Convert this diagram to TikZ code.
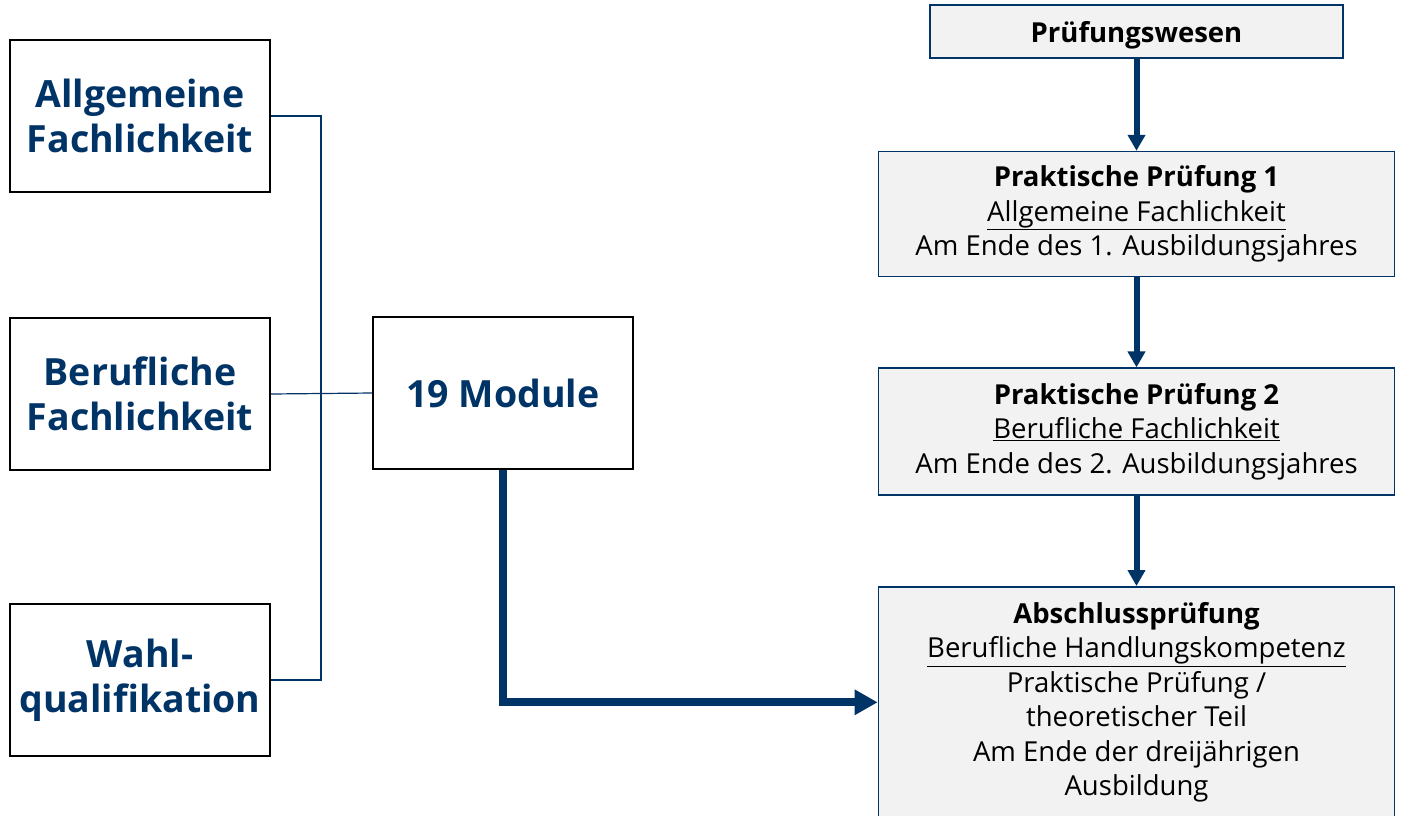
\documentclass[tikz,border=0pt]{standalone}
\usepackage{fontspec}
\setmainfont{Open Sans}
\usetikzlibrary{arrows.meta,positioning}
\definecolor{dunkelblau}{RGB}{0,51,102}
\definecolor{hellgrau}{RGB}{242,242,242}
\tikzset{
    %Kaesten links (Lernbereiche)
    kasten/.style={
           rectangle,
           draw=black, line width=1.6pt,
           minimum width=260pt,
           minimum height=152pt,
           align=center,
           text=dunkelblau,
           font=\fontsize{37.5}{45}\selectfont\bfseries},
    %Kaesten rechts (Pruefungen)
    pruef/.style={
           rectangle,
           draw=dunkelblau, line width=1.6pt,
           fill=hellgrau,
           minimum width=516pt,
           align=center,
           font=\fontsize{27.5}{34.5}\selectfont},
    % Verbindungslinien
    duenn/.style={
           draw=dunkelblau,
           line width=1.2pt},
    pfeil/.style={
           -{Triangle[length=16pt,width=17pt]},
           draw=dunkelblau,
           line width=6pt},
    dickpfeil/.style={
           -{Triangle[length=23pt,width=24pt]},
           draw=dunkelblau,
           line width=8pt}
}

\begin{document}
\begin{tikzpicture}[x=1pt, y=-1pt]
\useasboundingbox (0,0) rectangle (1409,815);
% linke Spalte
\node[kasten] (allg) at (140,116) {Allgemeine\\Fachlichkeit};
\node[kasten] (beruf) at (140,394) {Berufliche\\Fachlichkeit};
\node[kasten] (wahl) at (140,680) {Wahl-\\qualifikation};
\node[kasten] (modul) at (503,393) {19 Module};
\coordinate (bus) at (321,394);

% rechte Spalte
\node[pruef, minimum width=413pt, minimum height=53pt, text depth=0pt] (wesen) at (1136.5,31.5) {\textbf{Prüfungswesen}};
\node[pruef, minimum height=125pt, below=92pt of wesen] (pp1)
    {\textbf{Praktische Prüfung 1}\\\underline{Allgemeine Fachlichkeit}\\Am Ende des 1. Ausbildungsjahres};
\node[pruef, minimum height=127pt, below=90pt of pp1] (pp2)
    {\textbf{Praktische Prüfung 2}\\\underline{Berufliche Fachlichkeit}\\Am Ende des 2. Ausbildungsjahres};
\node[pruef, minimum height=231pt, below=90pt of pp2] (absch)
    {\textbf{Abschlussprüfung}\\\underline{Berufliche Handlungskompetenz}\\Praktische Prüfung /\\theoretischer Teil\\Am Ende der dreijährigen\\Ausbildung};

\draw[duenn] (allg.east) -| (bus) |- (wahl.east);
\draw[duenn] (beruf.east) -- (modul.west);

\draw[pfeil] (wesen) -- (pp1);
\draw[pfeil] (pp1) -- (pp2);
\draw[pfeil] (pp2) -- (absch);
\draw[dickpfeil] (modul.south) |- (absch.west);
\end{tikzpicture}
\end{document}
